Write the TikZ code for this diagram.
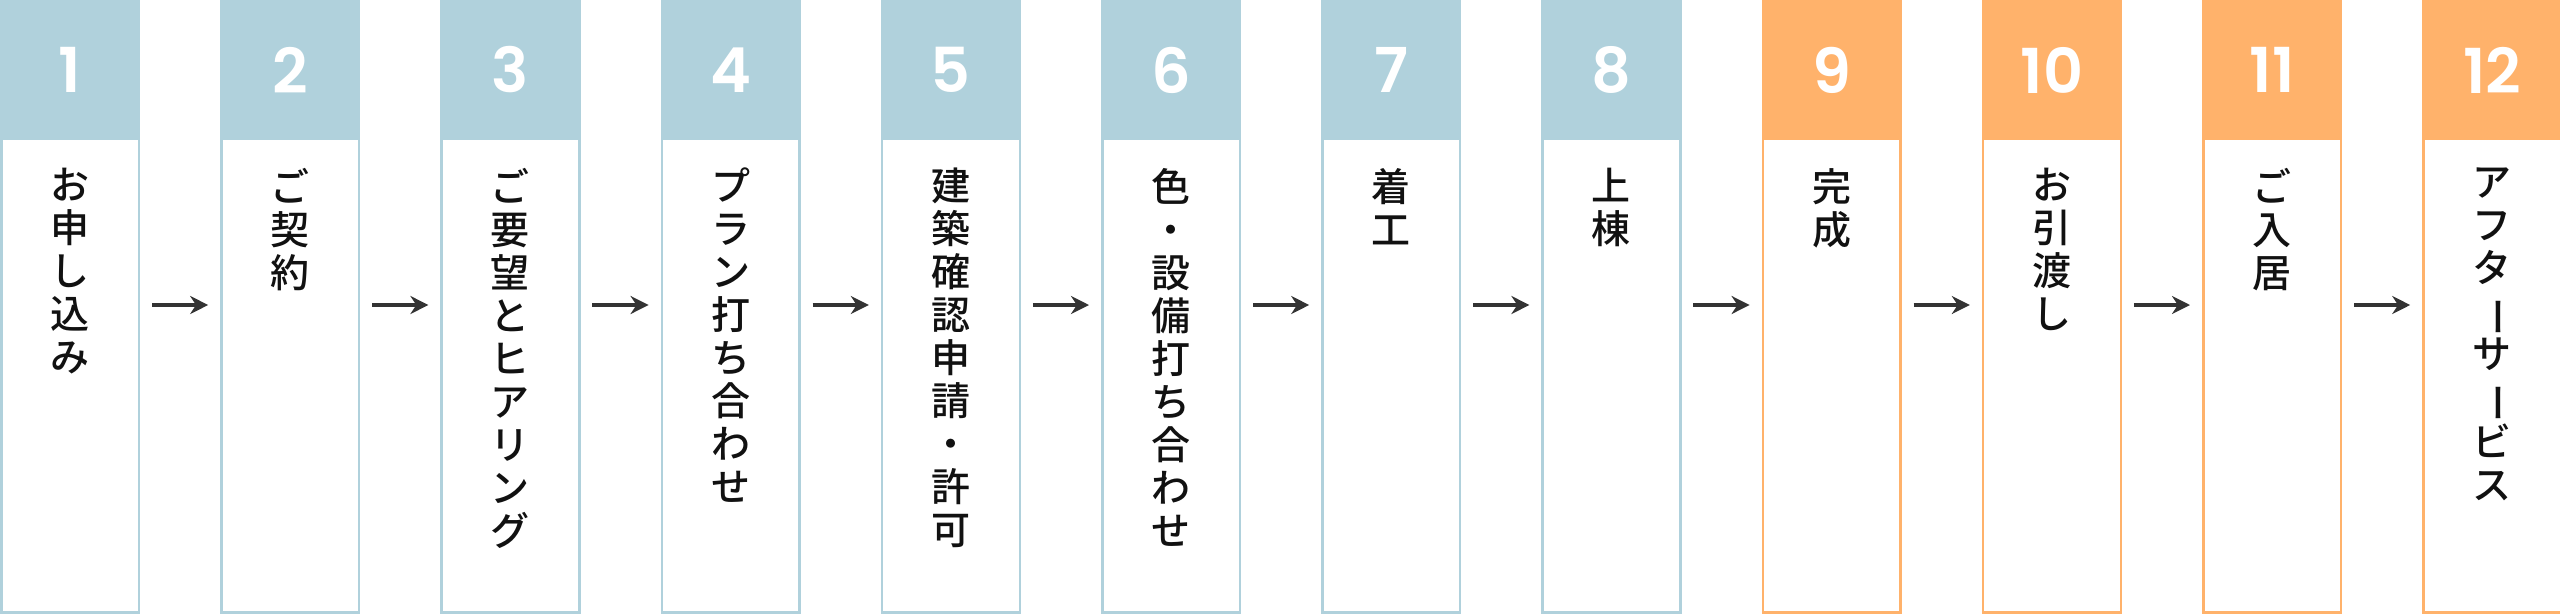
\documentclass[tikz,border=0pt]{standalone}
\usepackage{fontspec}
\newfontfamily\jp{Noto Sans CJK JP Medium}
\newfontfamily\numf{Poppins}[BoldFont={Poppins SemiBold}]
\usetikzlibrary{arrows.meta}
\definecolor{bluec}{HTML}{B0D1DC}
\definecolor{orc}{HTML}{FFB26B}
\definecolor{txt}{HTML}{111111}
\definecolor{arr}{HTML}{333333}
\newcommand{\vbar}{\rotatebox[origin=c]{-90}{ー}}
\tikzset{
 x=1pt,y=-1pt,
 bodybox/.style={draw=#1,line width=2.5pt,fill=white},
 headbox/.style={fill=#1},
 numlbl/.style={text=white,font=\numf\bfseries\fontsize{62}{62}\selectfont,inner sep=0},
 vtext/.style={anchor=north,align=center,text=txt,font=\jp\fontsize{39}{43}\selectfont,inner sep=0},
 flowarrow/.style={draw=arr,line width=4pt,-{Stealth[length=18pt,width=18pt]}}
}
\begin{document}
\begin{tikzpicture}
\useasboundingbox (0,0) rectangle (2560,614);
\foreach \i/\c/\t in {1/bluec/お\\申\\し\\込\\み,
 2/bluec/ご\\契\\約,
 3/bluec/ご\\要\\望\\と\\ヒ\\ア\\リ\\ン\\グ,
 4/bluec/プ\\ラ\\ン\\打\\ち\\合\\わ\\せ,
 5/bluec/建\\築\\確\\認\\申\\請\\・\\許\\可,
 6/bluec/色\\・\\設\\備\\打\\ち\\合\\わ\\せ,
 7/bluec/着\\工,
 8/bluec/上\\棟,
 9/orc/完\\成,
 10/orc/お\\引\\渡\\し,
 11/orc/ご\\入\\居,
 12/orc/ア\\フ\\タ\\\vbar\\サ\\\vbar\\ビ\\ス}{
 \pgfmathsetmacro{\xl}{(\i-1)*220.2}
 \draw[bodybox=\c] (\xl+1.25,139) rectangle (\xl+139,612.7);
 \fill[headbox=\c] (\xl,0) rectangle (\xl+140.2,139);
 \node[numlbl] (n\i) at (\xl+70,70) {\i};
 \node[vtext] (t\i) at (\xl+70,168) {\t};
 \coordinate (L\i) at (\xl,305);
 \coordinate (R\i) at (\xl+140,305);
}
\foreach \i [evaluate=\i as \j using int(\i+1)] in {1,...,11}{
 \draw[flowarrow] ([xshift=12pt]R\i) -- ([xshift=-12pt]L\j);
}
\end{tikzpicture}
\end{document}
